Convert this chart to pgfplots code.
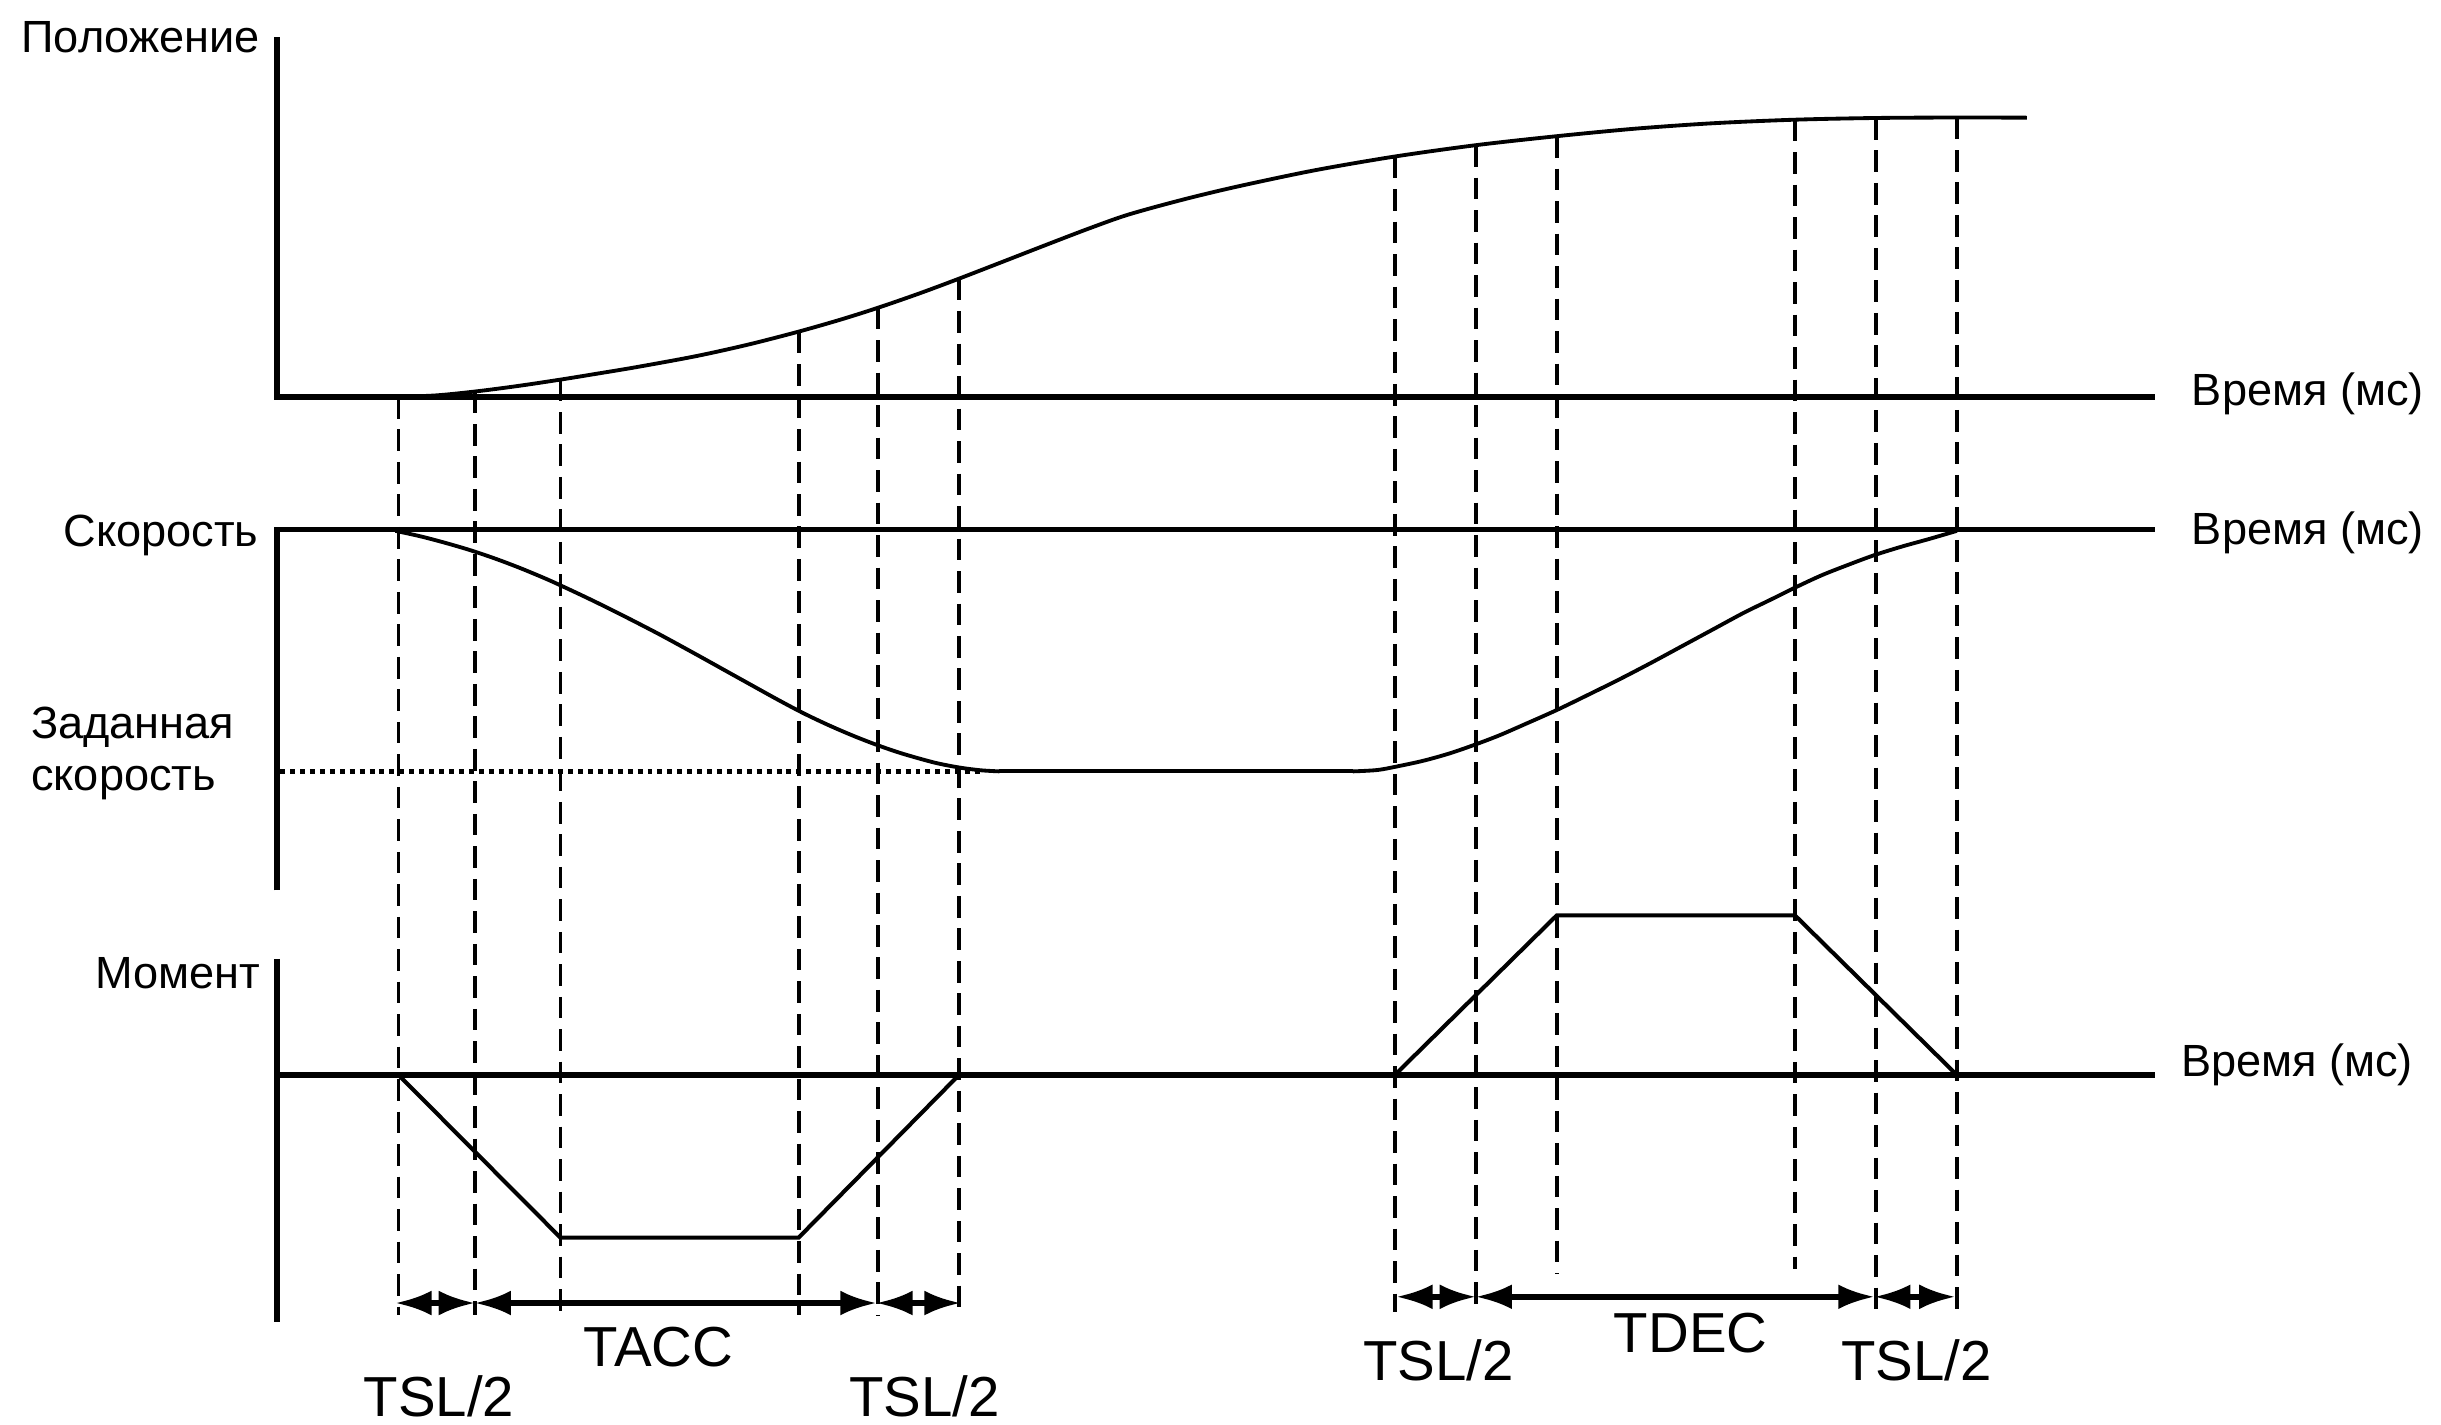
\documentclass[border=0pt]{standalone}
\usepackage{fontspec}
\setmainfont{Liberation Sans}
\usepackage{pgfplots}
\pgfplotsset{compat=1.18}
\usetikzlibrary{arrows.meta}
\tikzset{lab/.style={inner sep=0pt, outer sep=0pt, font=\fontsize{10}{11.4}\selectfont},
         big/.style={inner sep=0pt, outer sep=0pt, font=\fontsize{12.5}{14}\selectfont}}
\begin{document}
\begin{tikzpicture}
\begin{axis}[
  name=main,
  scale only axis, width=541pt, height=315.7pt,
  xmin=0, xmax=1568, ymin=0, ymax=915, y dir=reverse,
  hide axis, clip=false, no markers,
]
% --- axes ---
\addplot[black, line width=1.2pt] coordinates {(178,24) (178,255) (1384,255)};
\addplot[black, line width=1.2pt] coordinates {(178,572) (178,340) (1384,340)};
\addplot[black, line width=1.2pt] coordinates {(178,616) (178,849)};
\addplot[black, line width=1.2pt] coordinates {(178,690.5) (1384,690.5)};

% --- dashed guide lines ---
\pgfplotsset{guide/.style={black, line width=0.85pt, dash pattern=on 4.8pt off 2.4pt}}
\addplot[guide] coordinates {(256,255) (256,845)};
\addplot[guide] coordinates {(305,251.5) (305,845)};
\addplot[guide] coordinates {(360,243.8) (360,845)};
\addplot[guide] coordinates {(513,213) (513,845)};
\addplot[guide] coordinates {(564,197.7) (564,845)};
\addplot[guide] coordinates {(616,179) (616,845)};
\addplot[guide] coordinates {(896,100.6) (896,843)};
\addplot[guide] coordinates {(948,93.3) (948,843)};
\addplot[guide] coordinates {(1000,87.5) (1000,818)};
\addplot[guide] coordinates {(1153,76.9) (1153,815)};
\addplot[guide] coordinates {(1205,75.8) (1205,843)};
\addplot[guide] coordinates {(1257,75.5) (1257,843)};

% --- position curve ---
\addplot[black, line width=0.85pt, smooth, tension=0.5] coordinates {
(254,255) (280,254.0) (306,251.4) (333,247.9) (361,243.7) (385,239.8) (409,235.8)
(447,228.8) (480,221.5) (512,213.3) (540,205.3) (564,197.7) (590,188.7)
(615,179.4) (645,167.8) (672,157.3) (700,146.6) (725,137.8) (760,128.2)
(795,119.8) (844,109.5) (895,100.7) (947,93.4) (998,87.7) (1050,82.7)
(1100,79.2) (1153,76.9) (1205,75.8) (1257,75.5) (1302,75.6)};

% --- velocity curve ---
\addplot[black, line width=0.85pt, smooth, tension=0.5] coordinates {
(254,341) (270,344.5) (286,348.7) (302,353.4) (318,358.8) (334,364.85)
(350,371.5) (360,376.0) (376,383.5) (392,391.3) (408,399.4) (424,407.7)
(440,416.4) (450,421.9) (466,430.8) (482,439.7) (500,449.65) (516,458.1)
(532,465.7) (548,472.6) (564,478.8) (580,484.2) (600,489.8) (616,493.0)
(630,494.8) (642,495.5)};
\addplot[black, line width=0.85pt] coordinates {(642,495.5) (869,495.5)};
\addplot[black, line width=0.85pt, smooth, tension=0.5] coordinates {
(869,495.5) (885,494.6) (900,491.8) (915,488.5) (931,484.0) (947,478.5)
(963,472.4) (980,465.0) (1000,456.1) (1020,446.4) (1040,436.5) (1060,426.1)
(1080,415.3) (1100,404.5) (1120,393.7) (1137,385.4) (1153,377.5) (1170,369.6)
(1187,362.9) (1204,356.6) (1222,351.0) (1240,346.0) (1257,341.0)};
% set speed (dotted)
\addplot[black, line width=1.2pt, dash pattern=on 1.1pt off 1.1pt] coordinates {(180,495.7) (630,495.7)};

% --- torque ---
\addplot[black, line width=0.9pt] coordinates {(256,690.5) (360,795) (513,795) (616,690.5)};
\addplot[black, line width=0.9pt] coordinates {(896,690.5) (1000,588) (1153,588) (1257,690.5)};

% --- time interval arrows ---
\pgfplotsset{dim/.style={black, line width=1.2pt, {Latex[length=8pt,width=5.5pt]}-{Latex[length=8pt,width=5.5pt]}}}
\addplot[dim] coordinates {(254,837) (305,837)};
\addplot[dim] coordinates {(305,837) (563,837)};
\addplot[dim] coordinates {(563,837) (617,837)};
\addplot[dim] coordinates {(897,833) (948,833)};
\addplot[dim] coordinates {(948,833) (1204,833)};
\addplot[dim] coordinates {(1204,833) (1256,833)};

% --- labels ---
\node[lab, anchor=east] at (axis cs:167,24) {Положение};
\node[lab, anchor=west] at (axis cs:1408,253) {Время (мс)};
\node[lab, anchor=west] at (axis cs:1408,342) {Время (мс)};
\node[lab, anchor=west] at (axis cs:1401,684) {Время (мс)};
\node[lab, anchor=east] at (axis cs:166,344) {Скорость};
\node[lab, anchor=west, align=left] at (axis cs:20,484) {Заданная\\скорость};
\node[lab, anchor=east] at (axis cs:167,625) {Момент};
\node[big] at (axis cs:282,897) {TSL/2};
\node[big] at (axis cs:423,865) {TACC};
\node[big] at (axis cs:594,897) {TSL/2};
\node[big] at (axis cs:924,874) {TSL/2};
\node[big] at (axis cs:1086,856) {TDEC};
\node[big] at (axis cs:1231,874) {TSL/2};
\end{axis}
\pgfresetboundingbox
\useasboundingbox (main.south west) rectangle (main.north east);
\end{tikzpicture}
\end{document}
